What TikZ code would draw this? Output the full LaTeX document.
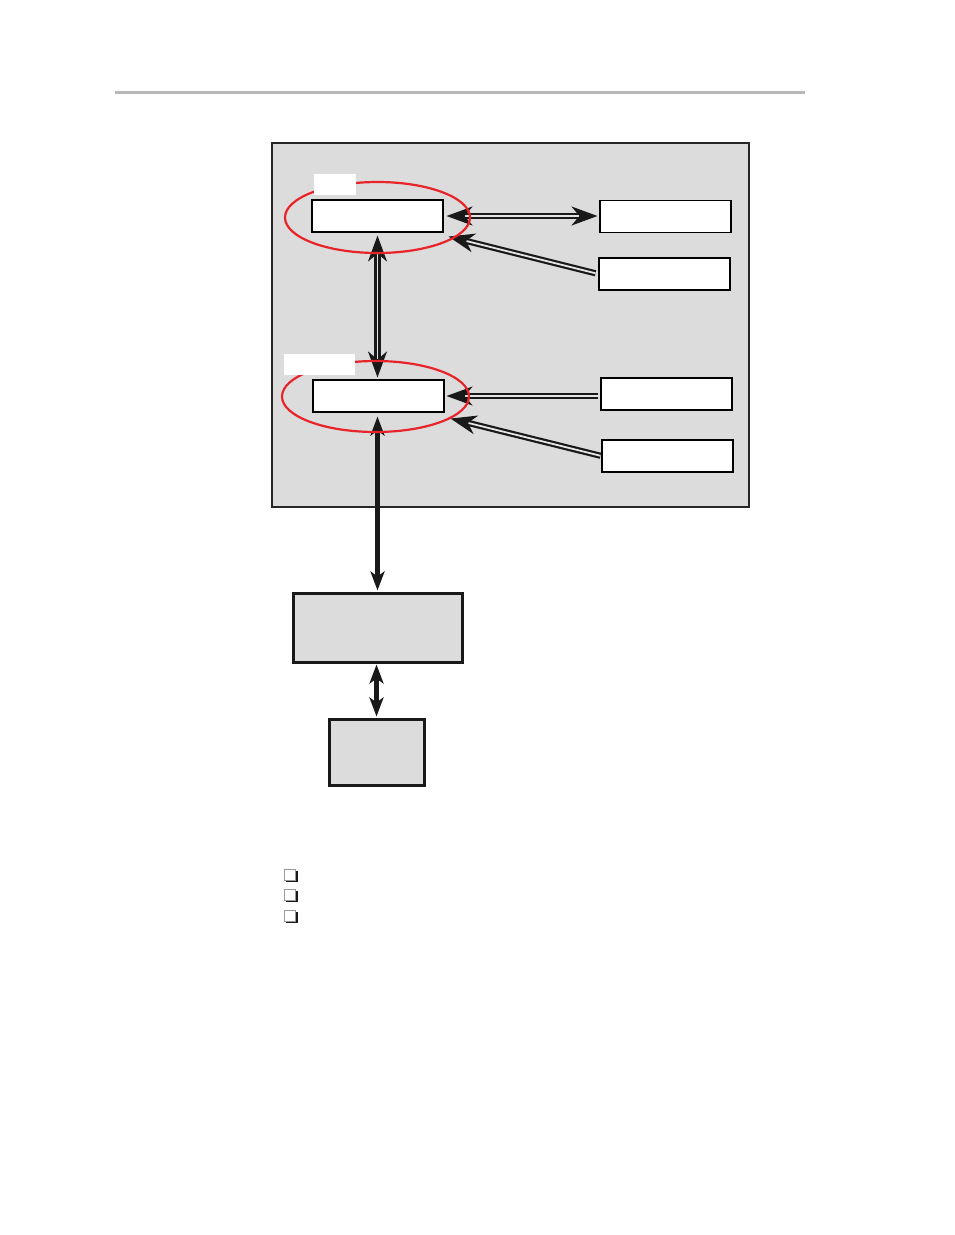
\documentclass[tikz,border=0pt]{standalone}
\usetikzlibrary{shapes.geometric, arrows.meta}
\definecolor{panelgray}{RGB}{220,220,220}
\definecolor{ringred}{RGB}{232,36,42}
\definecolor{rulegray}{RGB}{185,185,185}
\tikzstyle{unit} = [rectangle, draw=black, fill=white, line width=1.1pt, minimum width=131pt, minimum height=32pt, inner sep=0pt]
\tikzstyle{tag} = [rectangle, fill=white, inner sep=0pt, minimum height=21pt]
\tikzstyle{block} = [rectangle, draw=black!90, fill=panelgray, line width=3pt, inner sep=0pt]
\tikzstyle{ring} = [ellipse, draw=ringred, line width=2.2pt, inner sep=0pt]
\tikzstyle{dblarrow} = [draw=black!90, double=white!80!gray, line width=2.2pt, double distance=1.8pt, >={Stealth[length=26pt, width=19pt, inset=8pt]}]
\tikzstyle{bus} = [draw=black!90, line width=4.6pt, >={Stealth[length=19pt, width=14pt, inset=5pt]}]

\begin{document}
\begin{tikzpicture}[x=1pt, y=-1pt]
    \useasboundingbox (0,0) rectangle (954,1235);
    \draw [line width=3pt, rulegray] (115,92) -- (805,92);
    \draw [draw=black!85, fill=panelgray, line width=1.2pt] (272,143) rectangle (749,507);

    \node (top) [unit] at (377.5,216) {};
    \node (bot) [unit] at (378.5,396) {};
    \node (r1) [unit] at (665.5,216.5) {};
    \node (r2) [unit] at (664.5,274) {};
    \node (r3) [unit] at (666.5,394) {};
    \node (r4) [unit] at (667.5,456) {};
    \node (host) [block, minimum width=169pt, minimum height=69pt] at (377.5,627.5) {};
    \node (pc) [block, minimum width=95pt, minimum height=66pt] at (376.5,752) {};

    \draw [dblarrow, <->, shorten <=3pt, shorten >=2pt] (top.east) -- (r1.west |- top.east);
    \draw [dblarrow, ->, shorten <=3pt] (r2.west) -- ([shift={(5,4)}]top.south east);
    \draw [dblarrow, <->, shorten <=3pt, shorten >=2pt] (top.south) -- (bot.north -| top.south);
    \draw [dblarrow, ->, shorten <=2pt, shorten >=2pt] (r3.west |- bot.east) -- (bot.east);
    \draw [dblarrow, ->, shorten <=1pt] (r4.west) -- ([shift={(6,6)}]bot.south east);
    \draw [bus, <->, shorten <=4pt, shorten >=1pt] (bot.south -| host.north) -- (host.north);
    \draw [bus, <->, shorten <=1pt, shorten >=1pt] (host.south -| pc.north) -- (pc.north);

    \node (ringtop) [ring, minimum width=185pt, minimum height=71pt] at (377.5,217.5) {};
    \node (ringbot) [ring, minimum width=187pt, minimum height=71pt] at (375.5,396.5) {};
    \node (tagtop) [tag, minimum width=42pt] at (335,184) {};
    \node (tagbot) [tag, minimum width=71pt] at (319.5,364) {};

    % check boxes
    \foreach \y in {869,889,910} {
        \draw [black!90, line width=1.8pt] (286,\y+12) -- (297,\y+12) -- (297,\y+1.5);
        \draw [black!40, fill=white, line width=0.6pt] (284.5,\y) rectangle (295.5,\y+11);
    }
\end{tikzpicture}
\end{document}
